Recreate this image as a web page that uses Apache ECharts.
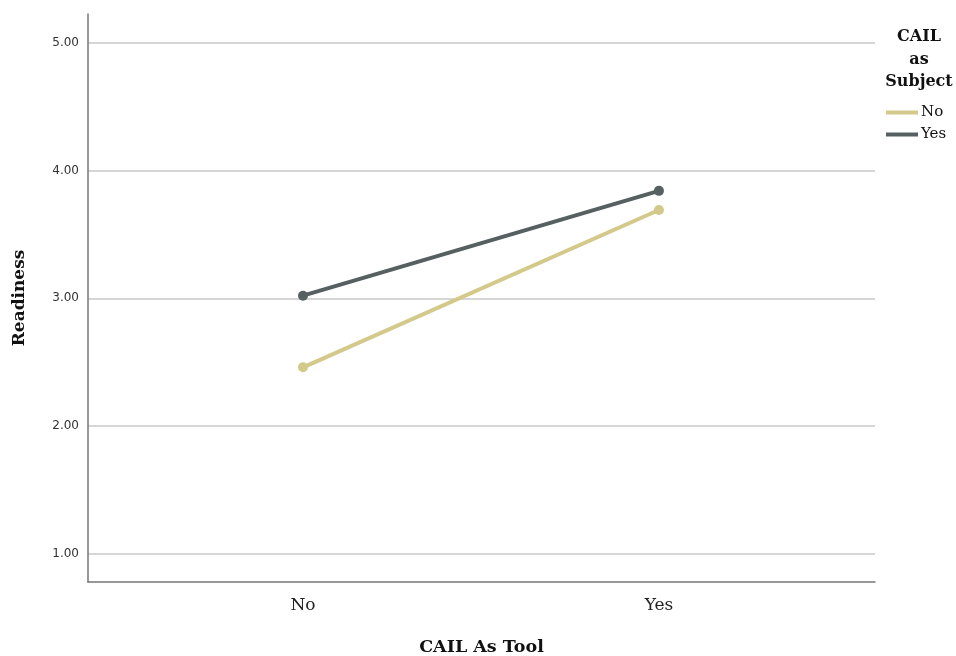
<!DOCTYPE html>
<html>
<head>
<meta charset="utf-8">
<script src="https://cdn.jsdelivr.net/npm/echarts@6/dist/echarts.min.js"></script>
<style>html,body{margin:0;padding:0;background:#fff;}#c{width:956px;height:656px;}</style>
</head>
<body>
<div id="c"></div>
<script>
const categories = ['No', 'Yes'];
const seriesNames = ['No', 'Yes'];
const valuesNo = [2.46, 3.69];
const valuesYes = [3.02, 3.84];
const yTicks = [1, 2, 3, 4, 5];

const chart = echarts.init(document.getElementById('c'));
const serif = '"DejaVu Serif", "Liberation Serif", serif';
function toPoints(vals) { return vals.map((v, i) => [i, v]); }

chart.setOption({
  animation: false,
  backgroundColor: '#fff',
  title: {
    text: 'CAIL\nas\nSubject',
    left: 919, top: 26, padding: 0,
    textAlign: 'center',
    textStyle: { fontFamily: serif, fontWeight: 'bold', fontSize: 16, lineHeight: 22.5, color: '#111' }
  },
  legend: {
    orient: 'vertical', left: 886, top: 105, padding: 0,
    icon: 'rect', itemWidth: 32, itemHeight: 4, itemGap: 7,
    textStyle: { fontFamily: serif, fontSize: 15, color: '#111', padding: [0, 0, 0, -2] },
    data: seriesNames
  },
  grid: { left: 88, right: 81, top: 14, bottom: 74, containLabel: false, outerBoundsMode: 'none' },
  xAxis: {
    type: 'value', min: -0.604, max: 1.607,
    name: 'CAIL As Tool', nameLocation: 'middle', nameGap: 56,
    nameTextStyle: { fontFamily: serif, fontWeight: 'bold', fontSize: 17.5, color: '#111' },
    axisLine: { show: true, onZero: false, lineStyle: { color: '#777', width: 1.5 } },
    axisTick: { show: false, customValues: [0, 1] },
    splitLine: { show: false },
    axisLabel: { customValues: [0, 1], formatter: v => categories[Math.round(v)], margin: 15,
      fontFamily: serif, fontSize: 17, color: '#222' }
  },
  yAxis: {
    type: 'value', min: 0.781, max: 5.223,
    name: 'Readiness', nameLocation: 'middle', nameGap: 60, nameRotate: 90,
    nameTextStyle: { fontFamily: serif, fontWeight: 'bold', fontSize: 17, color: '#111' },
    axisLine: { show: true, onZero: false, lineStyle: { color: '#777', width: 1.5 } },
    axisTick: { show: false, customValues: yTicks },
    splitLine: { show: true, lineStyle: { color: '#c8c8c8', width: 1.5 } },
    axisLabel: { customValues: yTicks, formatter: v => v.toFixed(2), margin: 9,
      fontFamily: '"DejaVu Sans", sans-serif', fontSize: 12, color: '#333' }
  },
  series: [
    { name: seriesNames[0], type: 'line', data: toPoints(valuesNo), color: '#d2c98a',
      symbol: 'circle', symbolSize: 10, lineStyle: { width: 4 }, z: 3 },
    { name: seriesNames[1], type: 'line', data: toPoints(valuesYes), color: '#566060',
      symbol: 'circle', symbolSize: 10, lineStyle: { width: 4 }, z: 4 }
  ]
});
</script>
</body>
</html>
